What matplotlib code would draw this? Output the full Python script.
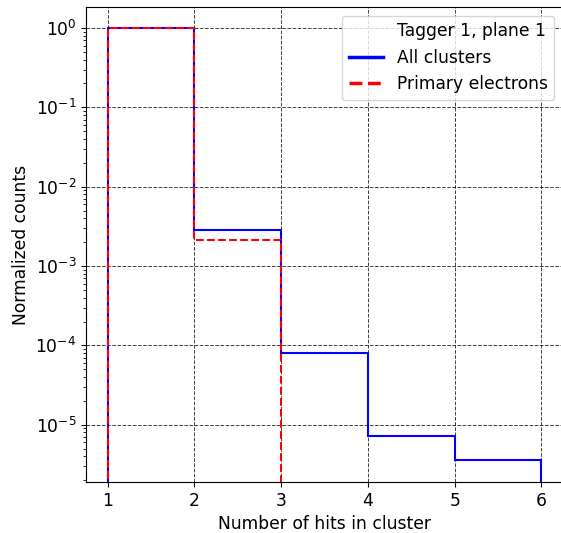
import numpy as np
import matplotlib
matplotlib.use("Agg")
import matplotlib.pyplot as plt
from matplotlib.lines import Line2D

# bin edges in number of hits, normalized counts per bin
edges = [1, 2, 3, 4, 5, 6]
all_clusters = [1.0, 2.84e-3, 7.98e-5, 7.16e-6, 3.57e-6]
primary = [1.0, 2.12e-3, 0.0, 0.0, 0.0]

plt.rcParams['font.size'] = 12.3

fig = plt.figure(figsize=(5.61, 5.33), dpi=100)
ax = fig.add_axes([86/561, 1 - 482/533, 477/561, 475/533])

centers = np.array(edges[:-1]) + 0.5
ax.plot([], [], ' ', label='Tagger 1, plane 1')
ax.hist(centers, bins=edges, weights=all_clusters, histtype='step',
        color='blue', lw=1.5, label='All clusters')
ax.hist(centers, bins=edges, weights=primary, histtype='step',
        color='red', ls='--', lw=1.5, label='Primary electrons')

ax.set_yscale('log')
ax.set_xlim(0.75, 6.25)
ax.set_ylim(1.9e-6, 1.84)
ax.set_xticks(edges)
ax.grid(True, color='k', ls='--', lw=0.7, alpha=0.75)

ax.set_xlabel('Number of hits in cluster')
ax.set_ylabel('Normalized counts')

h, l = ax.get_legend_handles_labels()
h = [h[0], Line2D([], [], color='blue', lw=2.5),
     Line2D([], [], color='red', ls='--', lw=2.5)]
ax.legend(h, l, loc='upper right')

fig.savefig('out.png', dpi=100)
